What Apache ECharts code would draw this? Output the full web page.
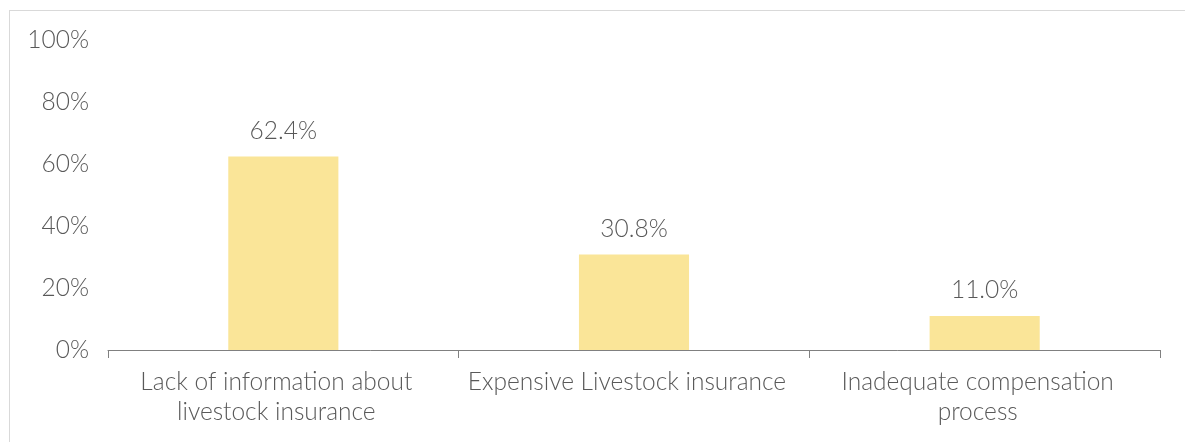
<!DOCTYPE html>
<html><head><meta charset="utf-8">
<script src="https://cdn.jsdelivr.net/npm/echarts@6/dist/echarts.min.js"></script>
<style>
html,body{margin:0;padding:0;background:#fff;overflow:hidden}
#frame{position:absolute;left:9px;top:10px;width:1300px;height:600px;border:1px solid #d9d9d9;box-sizing:border-box}
#c{position:absolute;left:0;top:0;width:1185px;height:442px}
</style></head>
<body>
<div id="frame"></div>
<div id="c"></div>
<script>
const categories = ['Lack of information about\nlivestock insurance', 'Expensive Livestock insurance', 'Inadequate compensation\nprocess'];
const values = [62.4, 30.8, 11.0];
const yTicks = [0, 20, 40, 60, 80, 100];

const chart = echarts.init(document.getElementById('c'), null, {renderer: 'canvas'});
const font = 'Lato';
const txt = '#595959';
chart.setOption({
  animation: false,
  grid: {left: 108, right: 25, top: 40, bottom: 92, containLabel: false},
  xAxis: {
    type: 'category',
    data: categories,
    axisLine: {lineStyle: {color: '#808080', width: 1}},
    axisTick: {show: true, length: 8, lineStyle: {color: '#808080'}},
    axisLabel: {fontFamily: font, fontWeight: 300, fontSize: 24.5, color: txt, margin: 17, lineHeight: 30, interval: 0, padding: [0, 14, 0, 0]}
  },
  yAxis: {
    type: 'value',
    min: yTicks[0], max: yTicks[yTicks.length - 1], interval: 20,
    splitLine: {show: false},
    axisLine: {show: false},
    axisTick: {show: false},
    axisLabel: {fontFamily: font, fontWeight: 300, fontSize: 24.5, color: txt, margin: 19, formatter: v => v + '%'}
  },
  series: [{
    type: 'bar',
    data: values,
    barWidth: '31.4%',
    itemStyle: {color: '#FAE598'},
    label: {show: true, position: 'top', distance: 13, fontFamily: font, fontWeight: 300, fontSize: 24.5, color: txt, formatter: p => p.value.toFixed(1) + '%'}
  }]
});
</script>
</body></html>
